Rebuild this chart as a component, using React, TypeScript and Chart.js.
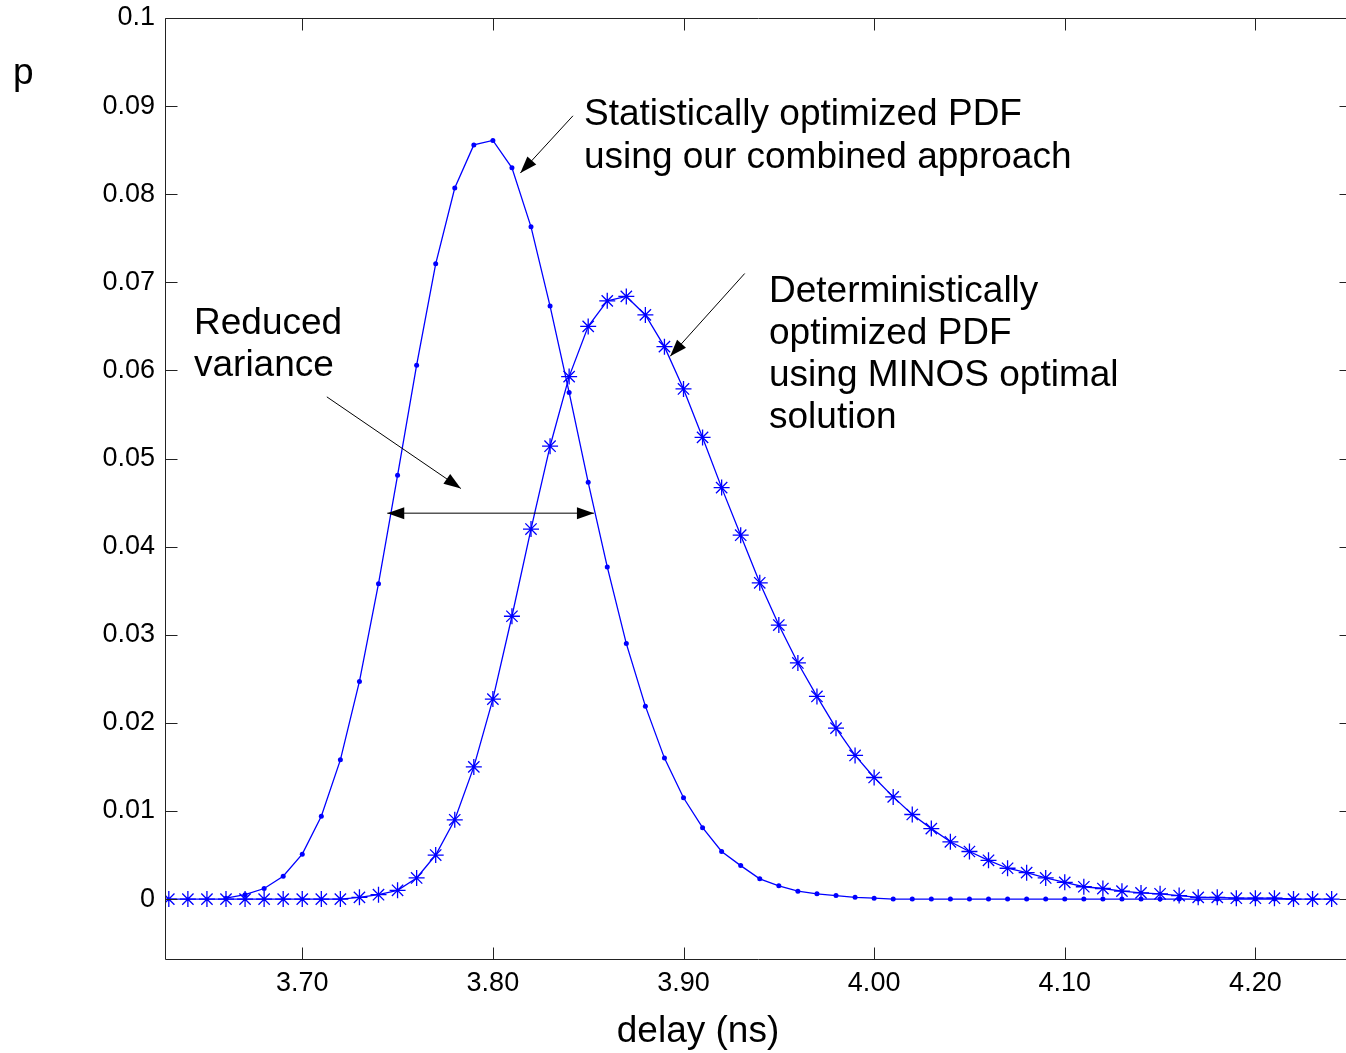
import React, { useEffect, useRef } from "react";
import { Chart, registerables } from "chart.js";

Chart.register(...registerables);

// delay (ns)
const delays = [
  3.63, 3.64, 3.65, 3.66, 3.67, 3.68, 3.69, 3.7, 3.71, 3.72,
  3.73, 3.74, 3.75, 3.76, 3.77, 3.78, 3.79, 3.8, 3.81, 3.82,
  3.83, 3.84, 3.85, 3.86, 3.87, 3.88, 3.89, 3.9, 3.91, 3.92,
  3.93, 3.94, 3.95, 3.96, 3.97, 3.98, 3.99, 4.0, 4.01, 4.02,
  4.03, 4.04, 4.05, 4.06, 4.07, 4.08, 4.09, 4.1, 4.11, 4.12,
  4.13, 4.14, 4.15, 4.16, 4.17, 4.18, 4.19, 4.2, 4.21, 4.22,
  4.23, 4.24,
];

// Statistically optimized PDF (dot markers)
const statisticalPdf = [
  null, null, null, 0.0001, 0.0005, 0.0012, 0.0026, 0.0051, 0.0094, 0.0158,
  0.0247, 0.0358, 0.0481, 0.0606, 0.0721, 0.0807, 0.0856, 0.0861, 0.083, 0.0763,
  0.0673, 0.0575, 0.0473, 0.0377, 0.029, 0.0219, 0.016, 0.0115, 0.0081, 0.0054,
  0.0038, 0.0023, 0.0015, 0.0009, 0.0006, 0.0004, 0.0002, 0.0001, 0, 0,
  0, 0, 0, 0, 0, 0, 0, 0, 0, 0,
  0, 0, 0, 0, 0, 0, 0, 0, 0, 0,
  null, null,
];

// Deterministically optimized PDF (star markers)
const deterministicPdf = [
  0, 0, 0, 0, 0, 0, 0, 0, 0, 0,
  0.0002, 0.0005, 0.001, 0.0024, 0.005, 0.009, 0.015, 0.0227, 0.0321, 0.042,
  0.0514, 0.0593, 0.065, 0.0679, 0.0684, 0.0663, 0.0627, 0.0579, 0.0524, 0.0467,
  0.0413, 0.0359, 0.0311, 0.0268, 0.023, 0.0194, 0.0163, 0.0138, 0.0116, 0.0096,
  0.008, 0.0065, 0.0054, 0.0044, 0.0035, 0.003, 0.0024, 0.0019, 0.0014, 0.0012,
  0.0009, 0.0007, 0.0006, 0.0004, 0.0002, 0.0002, 0.0001, 0.0001, 0.0001, 0,
  0, 0,
];

const xTickValues = [3.7, 3.8, 3.9, 4.0, 4.1, 4.2];
const xTickLabels = ["3.70", "3.80", "3.90", "4.00", "4.10", "4.20"];
const yTickValues = [0, 0.01, 0.02, 0.03, 0.04, 0.05, 0.06, 0.07, 0.08, 0.09, 0.1];
const yTickLabels = ["0", "0.01", "0.02", "0.03", "0.04", "0.05", "0.06", "0.07", "0.08", "0.09", "0.1"];

const X_MIN = 3.628;
const X_MAX = 4.25;
const Y_MIN = -0.0068;
const Y_MAX = 0.1;

// Arrows in data coordinates: [x0, y0, x1, y1, doubleHeaded]
const arrows: [number, number, number, number, boolean][] = [
  [3.842, 0.0889, 3.8144, 0.0824, false],
  [3.9321, 0.071, 3.893, 0.0616, false],
  [3.7129, 0.057, 3.7832, 0.0466, false],
  [3.7446, 0.0438, 3.853, 0.0438, true],
];

const FONT = '"Liberation Sans", Arial, Helvetica, sans-serif';
const BLUE = "#0000ff";
const AXIS = "#222222";

function drawArrowHead(ctx: CanvasRenderingContext2D, fx: number, fy: number, tx: number, ty: number) {
  const ang = Math.atan2(ty - fy, tx - fx);
  const len = 17;
  const hw = 6;
  const bx = tx - Math.cos(ang) * len;
  const by = ty - Math.sin(ang) * len;
  ctx.beginPath();
  ctx.moveTo(tx, ty);
  ctx.lineTo(bx + Math.sin(ang) * hw, by - Math.cos(ang) * hw);
  ctx.lineTo(bx - Math.sin(ang) * hw, by + Math.cos(ang) * hw);
  ctx.closePath();
  ctx.fill();
}

const decorPlugin = {
  id: "decor",
  afterDraw(chart: any) {
    const ctx: CanvasRenderingContext2D = chart.ctx;
    const { left, right, top, bottom } = chart.chartArea;
    const xs = chart.scales.x;
    const ys = chart.scales.y;
    ctx.save();
    // box
    ctx.strokeStyle = AXIS;
    ctx.lineWidth = 1;
    const L = Math.round(left) + 0.5;
    const R = Math.round(right) + 0.5;
    const T = Math.round(top) + 0.5;
    const B = Math.round(bottom) + 0.5;
    ctx.beginPath();
    ctx.moveTo(L, T);
    ctx.lineTo(R, T);
    ctx.lineTo(R, B);
    ctx.lineTo(L, B);
    ctx.closePath();
    ctx.stroke();
    // inward ticks
    const tl = 12;
    ctx.beginPath();
    xTickValues.forEach((v) => {
      const px = Math.round(xs.getPixelForValue(v)) + 0.5;
      ctx.moveTo(px, B);
      ctx.lineTo(px, B - tl);
      ctx.moveTo(px, T);
      ctx.lineTo(px, T + tl);
    });
    yTickValues.forEach((v) => {
      const py = Math.round(ys.getPixelForValue(v)) + 0.5;
      ctx.moveTo(L, py);
      ctx.lineTo(L + tl, py);
      ctx.moveTo(R, py);
      ctx.lineTo(R - tl, py);
    });
    ctx.stroke();

    // arrows
    ctx.strokeStyle = "#000";
    ctx.fillStyle = "#000";
    ctx.lineWidth = 1;
    arrows.forEach(([x0, y0, x1, y1, dbl]) => {
      const fx = xs.getPixelForValue(x0);
      const fy = ys.getPixelForValue(y0);
      const tx = xs.getPixelForValue(x1);
      const ty = ys.getPixelForValue(y1);
      ctx.beginPath();
      ctx.moveTo(fx, fy);
      ctx.lineTo(tx, ty);
      ctx.stroke();
      drawArrowHead(ctx, fx, fy, tx, ty);
      if (dbl) drawArrowHead(ctx, tx, ty, fx, fy);
    });

    // texts
    ctx.fillStyle = "#000";
    ctx.textAlign = "left";
    ctx.textBaseline = "alphabetic";
    ctx.font = `37px ${FONT}`;
    ctx.fillText("Statistically optimized PDF", 584, 125);
    ctx.fillText("using our combined approach", 584, 168);
    ctx.fillText("Deterministically", 769, 302);
    ctx.fillText("optimized PDF", 769, 344);
    ctx.fillText("using MINOS optimal", 769, 386);
    ctx.fillText("solution", 769, 428);
    ctx.fillText("Reduced", 194, 334);
    ctx.fillText("variance", 194, 376);
    ctx.fillText("p", 13, 84);
    ctx.textAlign = "center";
    ctx.fillText("delay (ns)", 698, 1042);
    ctx.restore();
  },
};

export default function App() {
  const ref = useRef<HTMLCanvasElement | null>(null);
  useEffect(() => {
    document.body.style.margin = "0";
    document.body.style.overflow = "hidden";
    const canvas = ref.current;
    if (!canvas) return;
    const chart = new Chart(canvas, {
      type: "line",
      data: {
        datasets: [
          {
            label: "Deterministically optimized PDF",
            data: delays.map((d, i) => ({ x: d, y: deterministicPdf[i] })),
            borderColor: BLUE,
            backgroundColor: BLUE,
            borderWidth: 1.3,
            pointStyle: "star",
            pointRadius: 8,
            pointBorderWidth: 1.3,
            pointBorderColor: BLUE,
            pointBackgroundColor: BLUE,
            tension: 0,
            fill: false,
          },
          {
            label: "Statistically optimized PDF",
            data: delays.map((d, i) => ({ x: d, y: statisticalPdf[i] })),
            borderColor: BLUE,
            backgroundColor: BLUE,
            borderWidth: 1.3,
            pointStyle: "circle",
            pointRadius: 2.5,
            pointBorderWidth: 0,
            pointBackgroundColor: BLUE,
            tension: 0,
            fill: false,
            spanGaps: false,
          },
        ],
      },
      options: {
        responsive: false,
        animation: false,
        devicePixelRatio: 1,
        events: [],
        layout: { padding: { left: 0, top: 18, right: 2, bottom: 0 } },
        plugins: {
          legend: { display: false },
          tooltip: { enabled: false },
          title: { display: false },
        },
        scales: {
          x: {
            type: "linear",
            min: X_MIN,
            max: X_MAX,
            grid: { display: false, drawTicks: false },
            border: { display: false },
            afterBuildTicks: (s: any) => {
              s.ticks = xTickValues.map((v) => ({ value: v }));
            },
            afterFit: (s: any) => {
              s.height = 94;
              s.paddingLeft = 0;
              s.paddingRight = 0;
            },
            ticks: {
              autoSkip: false,
              maxRotation: 0,
              padding: 8,
              color: "#000",
              font: { family: FONT, size: 27 },
              callback: (_v: any, i: number) => xTickLabels[i],
            },
          },
          y: {
            type: "linear",
            min: Y_MIN,
            max: Y_MAX,
            grid: { display: false, drawTicks: false },
            border: { display: false },
            afterBuildTicks: (s: any) => {
              s.ticks = yTickValues.map((v) => ({ value: v }));
            },
            afterFit: (s: any) => {
              s.width = 165;
              s.paddingTop = 0;
              s.paddingBottom = 0;
            },
            ticks: {
              autoSkip: false,
              padding: 10,
              color: "#000",
              font: { family: FONT, size: 27 },
              callback: (_v: any, i: number) => yTickLabels[i],
            },
          },
        },
      },
      plugins: [decorPlugin],
    } as any);
    return () => chart.destroy();
  }, []);

  return (
    <div
      style={{
        position: "absolute",
        left: 0,
        top: 0,
        width: 1346,
        height: 1053,
        overflow: "hidden",
        background: "#fff",
      }}
    >
      <canvas ref={ref} width={1360} height={1053} style={{ display: "block", width: 1360, height: 1053 }} />
    </div>
  );
}
